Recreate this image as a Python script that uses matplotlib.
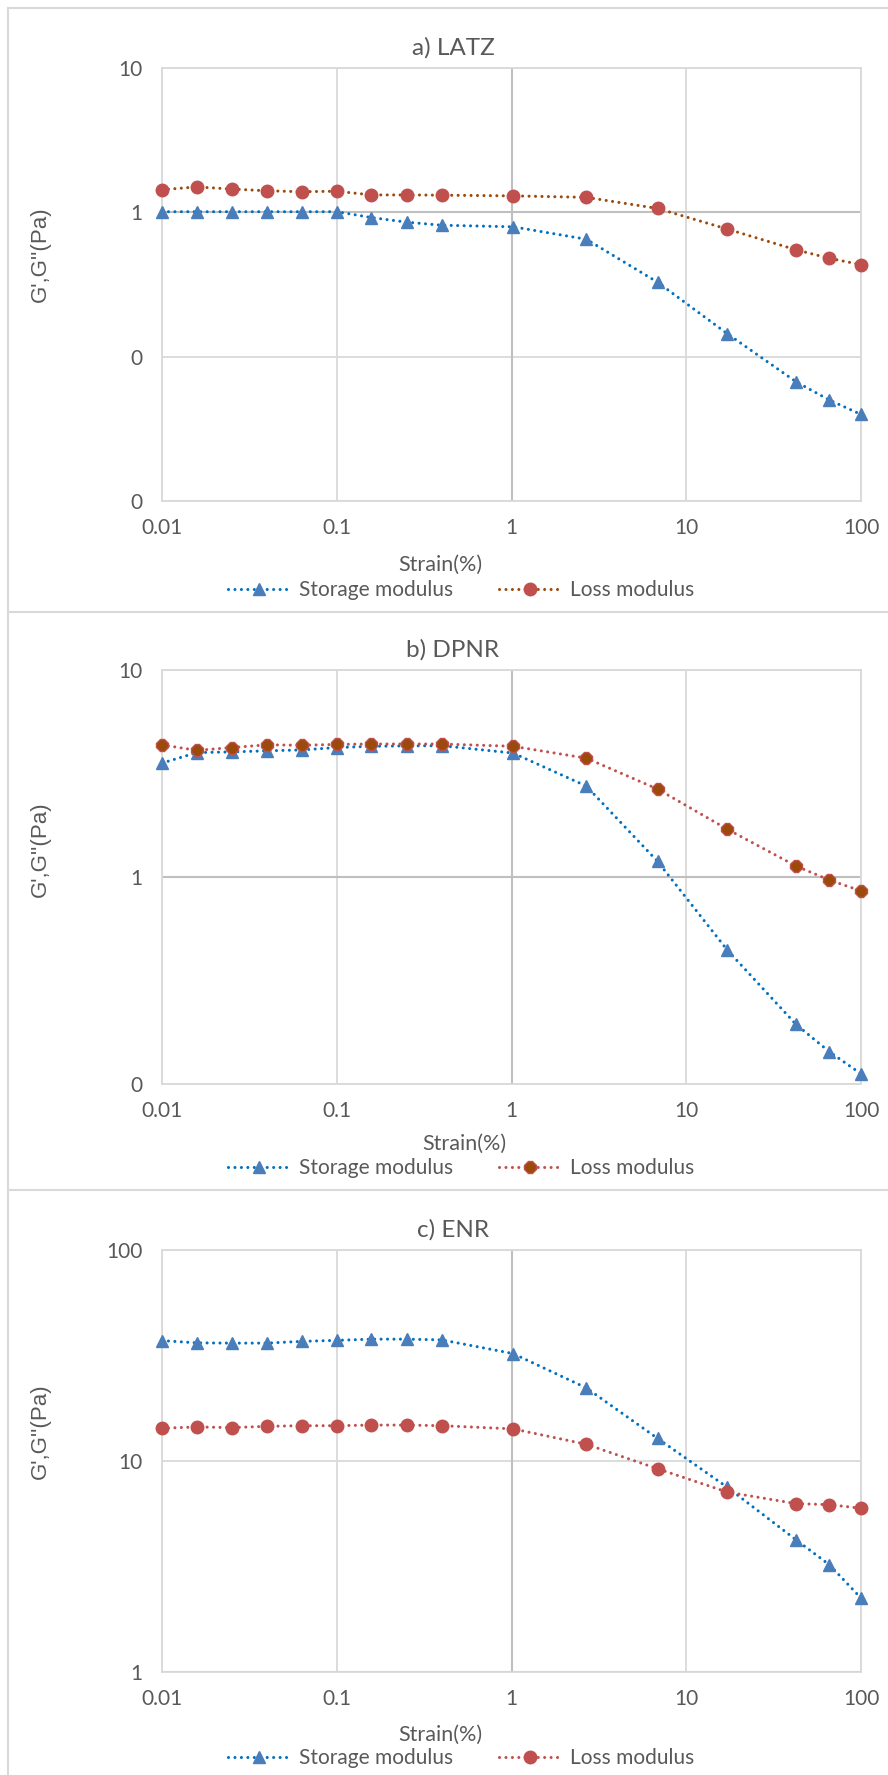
import numpy as np
import matplotlib
matplotlib.use('Agg')
import matplotlib.pyplot as plt
from matplotlib.lines import Line2D
from matplotlib.ticker import FixedLocator, FixedFormatter, NullLocator

# strain sweep points (%)
strain = [0.01, 0.0158, 0.0251, 0.0398, 0.0631, 0.1, 0.158, 0.251, 0.398,
          1.02, 2.68, 6.85, 17.2, 42.5, 66, 100]

# a) LATZ
latz_storage = [1.01, 1.01, 1.01, 1.01, 1.01, 1.01, 0.92, 0.855, 0.814,
                0.794, 0.651, 0.328, 0.144, 0.067, 0.050, 0.0398]
latz_loss = [1.435, 1.50, 1.45, 1.41, 1.39, 1.40, 1.32, 1.32, 1.315,
             1.30, 1.27, 1.064, 0.765, 0.55, 0.48, 0.434]

# b) DPNR
dpnr_storage = [3.55, 3.99, 4.02, 4.07, 4.11, 4.22, 4.28, 4.30, 4.31,
                3.97, 2.75, 1.19, 0.443, 0.194, 0.143, 0.112]
dpnr_loss = [4.35, 4.09, 4.22, 4.35, 4.33, 4.37, 4.39, 4.39, 4.39,
             4.28, 3.75, 2.66, 1.70, 1.13, 0.966, 0.857]

# c) ENR
enr_storage = [37.2, 36.3, 36.2, 36.2, 36.9, 37.3, 37.8, 37.8, 37.5,
               32.3, 22.2, 12.8, 7.5, 4.23, 3.22, 2.24]
enr_loss = [14.3, 14.5, 14.4, 14.6, 14.7, 14.7, 14.8, 14.8, 14.7,
            14.2, 12.0, 9.19, 7.12, 6.28, 6.21, 5.97]

x_ticks = [0.01, 0.1, 1, 10, 100]
x_labels = ['0.01', '0.1', '1', '10', '100']

W, H = 888, 1775
fig = plt.figure(figsize=(W / 100, H / 100), dpi=100)
fig.patch.set_facecolor('white')

txt = '#595959'
grid = '#D9D9D9'
axis_c = '#BFBFBF'
blue_line = '#0070C0'
blue_mk = '#4A7EBB'
red = '#C0504D'
brown = '#9C4A0C'
font = ['Lato', 'DejaVu Sans']

def fy(py):
    return 1 - py / H

# chart borders
for y in [8, 612, 1190]:
    fig.add_artist(Line2D([8 / W, 1], [fy(y), fy(y)], color=grid, lw=1.5))
fig.add_artist(Line2D([8 / W, 8 / W], [fy(8), 0], color=grid, lw=1.5))

panels = [
    dict(top=68, bot=501, title='a) LATZ', title_y=48, yl=(0.01, 10),
         yt=[0.01, 0.1, 1, 10], ylab=['0', '0', '1', '10'],
         s=latz_storage, l=latz_loss, lline=brown, lface=red, ledge=red,
         strain_y=565, strain_x=440, leg_y=590, ylab_y=254),
    dict(top=670, bot=1084, title='b) DPNR', title_y=650, yl=(0.1, 10),
         yt=[0.1, 1, 10], ylab=['0', '1', '10'],
         s=dpnr_storage, l=dpnr_loss, lline=red, lface=brown, ledge=red,
         strain_y=1144, strain_x=464, leg_y=1168, ylab_y=849),
    dict(top=1250, bot=1672, title='c) ENR', title_y=1230, yl=(1, 100),
         yt=[1, 10, 100], ylab=['1', '10', '100'],
         s=enr_storage, l=enr_loss, lline=red, lface=red, ledge=red,
         strain_y=1735, strain_x=440, leg_y=1758, ylab_y=1431),
]

left, right = 162, 861
for p in panels:
    ax = fig.add_axes([left / W, fy(p['bot']), (right - left) / W,
                       (p['bot'] - p['top']) / H])
    ax.set_xscale('log')
    ax.set_yscale('log')
    ax.set_xlim(0.01, 100)
    ax.set_ylim(*p['yl'])
    ax.xaxis.set_major_locator(FixedLocator(x_ticks))
    ax.xaxis.set_major_formatter(FixedFormatter(x_labels))
    ax.xaxis.set_minor_locator(NullLocator())
    ax.yaxis.set_major_locator(FixedLocator(p['yt']))
    ax.yaxis.set_major_formatter(FixedFormatter(p['ylab']))
    ax.yaxis.set_minor_locator(NullLocator())
    ax.tick_params(length=0, labelcolor=txt, labelsize=15, pad=12)
    ax.tick_params(axis='y', pad=14)
    for lab in ax.get_xticklabels() + ax.get_yticklabels():
        lab.set_family(font)
    ax.grid(True, color=grid, lw=1.3)
    ax.set_axisbelow(True)
    for sp in ax.spines.values():
        sp.set_color(grid)
        sp.set_linewidth(1.3)
    ax.axhline(1, color=axis_c, lw=1.5, zorder=1)
    ax.axvline(1, color=axis_c, lw=1.5, zorder=1)

    h1, = ax.plot(strain, p['s'], color=blue_line, lw=2.2,
                  linestyle=(0, (0.01, 2.1)), dash_capstyle='round',
                  marker='^', ms=9, mfc=blue_mk, mec=blue_mk, zorder=3,
                  clip_on=False)
    mk = '8' if p['lface'] == brown else 'o'
    h2, = ax.plot(strain, p['l'], color=p['lline'], lw=2.2,
                  linestyle=(0, (0.01, 2.1)), dash_capstyle='round',
                  marker=mk, ms=9, mfc=p['lface'], mec=p['ledge'], mew=1,
                  zorder=4, clip_on=False)

    fig.text(453 / W, fy(p['title_y']), p['title'], ha='center', va='center',
             color=txt, fontsize=17.5, family=font)
    fig.text(p['strain_x'] / W, fy(p['strain_y']), 'Strain(%)', ha='center',
             va='center', color=txt, fontsize=15.5, family=font)
    fig.text(40 / W, fy(p['ylab_y']), "G',G''(Pa)", ha='center', va='center',
             rotation=90, color=txt, fontsize=16, family='Liberation Sans')
    fig.legend([h1, h2], ['Storage modulus', 'Loss modulus'], ncol=2,
               loc='center', bbox_to_anchor=(461 / W, fy(p['leg_y'])),
               frameon=False, prop={'family': font, 'size': 15},
               labelcolor=txt, handlelength=3.0, handletextpad=0.4,
               columnspacing=2.2, borderpad=0)

fig.savefig('out.png', dpi=100)
